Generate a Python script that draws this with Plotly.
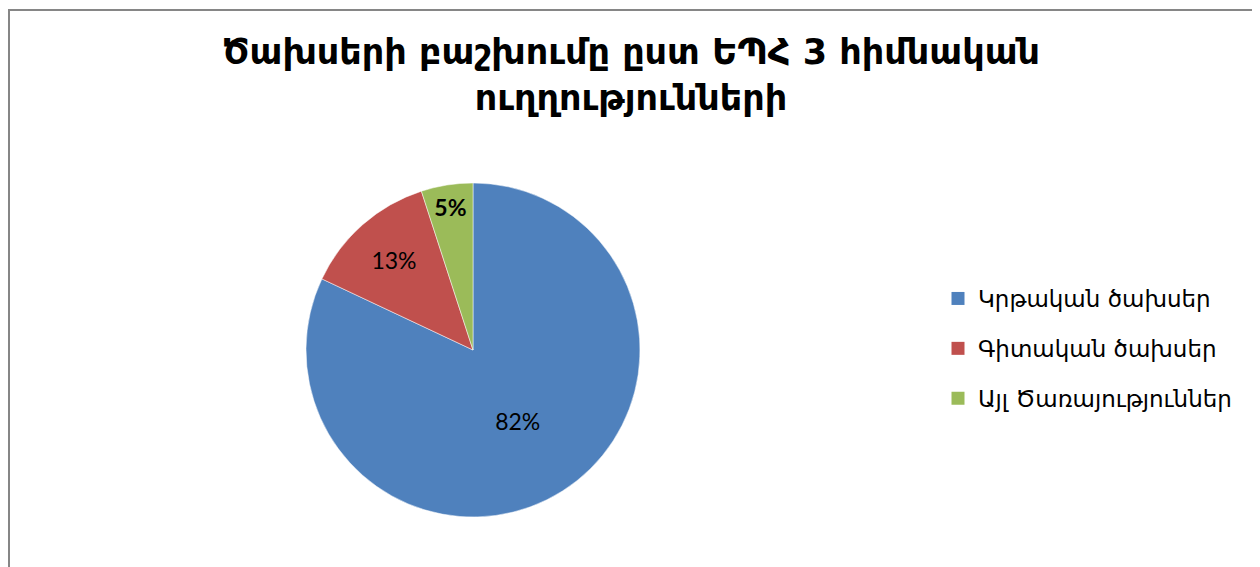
import plotly.graph_objects as go

categories = ["Կրթական ծախսեր", "Գիտական ծախսեր", "Այլ Ծառայություններ"]
values = [82, 13, 5]
colors = ["#4F81BD", "#C0504D", "#9BBB59"]
text_templates = ["%{value}%", "%{value}%", "<b>%{value}%</b>"]
title_text = "Ծախսերի բաշխումը ըստ ԵՊՀ 3 հիմնական<br>ուղղությունների"

# page body has an 8px margin; figure fills the rest of the window
W, H = 1252, 559
OFF = 8


def px_x(X):
    return (X - OFF) / W


def px_y(Y):
    return 1 - (Y - OFF) / H


fig = go.Figure()

fig.add_trace(go.Pie(
    labels=categories, values=values, sort=False, direction="clockwise", rotation=0,
    marker=dict(colors=colors, line=dict(color="white", width=0.5)),
    texttemplate=text_templates, textposition="inside", insidetextorientation="horizontal",
    textfont=dict(family="Lato", size=23, color="black"),
    domain=dict(x=[px_x(306), px_x(640)], y=[px_y(517), px_y(183)]),
    showlegend=False, hoverinfo="label+percent",
))

for i, (c, col) in enumerate(zip(categories, colors)):
    fig.add_trace(go.Scatter(
        x=[None], y=[None], mode="markers", name=c, legendgroup=f"g{i}",
        marker=dict(symbol="square", size=13, color=col),
    ))

fig.update_layout(
    width=W, height=H,
    margin=dict(l=0, r=0, t=0, b=0),
    paper_bgcolor="white", plot_bgcolor="white",
    xaxis=dict(visible=False, domain=[0, 1]), yaxis=dict(visible=False, domain=[0, 1]),
    title=dict(text=title_text, x=px_x(631), xanchor="center", y=px_y(64), yanchor="top",
               font=dict(family="DejaVu Sans", size=35, color="black", weight="bold")),
    legend=dict(x=px_x(938), y=px_y(277), xanchor="left", yanchor="top",
                font=dict(family="DejaVu Sans", size=23, color="black"),
                tracegroupgap=17, itemsizing="trace", bgcolor="rgba(0,0,0,0)"),
    shapes=[dict(type="rect", xref="paper", yref="paper",
                 x0=px_x(9), x1=px_x(1255), y0=-0.05, y1=px_y(10),
                 line=dict(color="#868686", width=2), fillcolor="rgba(0,0,0,0)", layer="below")],
)

fig.write_html("out.html")
